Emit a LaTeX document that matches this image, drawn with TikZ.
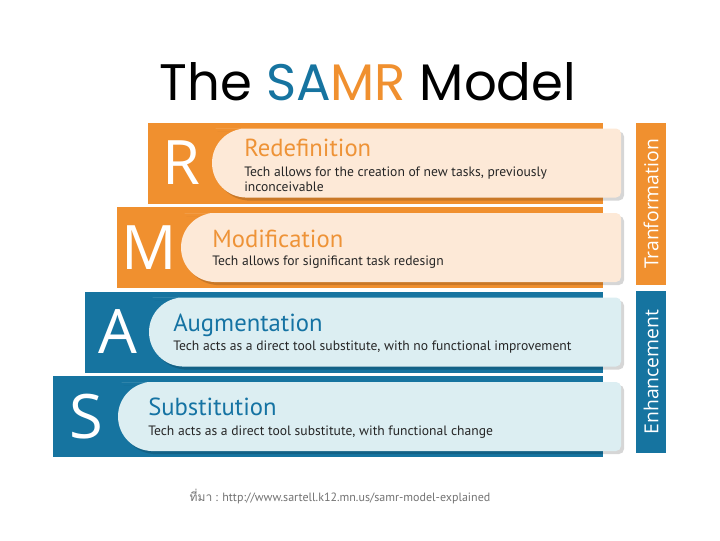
\documentclass[tikz,border=0pt]{standalone}
\usepackage{fontspec}
\setmainfont{Open Sans}
\newfontfamily\titlefont{Poppins}
\newfontfamily\pillfont{PT Sans}
\newfontfamily\thaifont[Script=Thai]{Loma}

\definecolor{samrorange}{rgb}{0.941176, 0.564706, 0.184314}
\definecolor{samrblue}{rgb}{0.086275, 0.454902, 0.627451}
\definecolor{samrorangetext}{rgb}{0.933333, 0.576471, 0.215686}
\definecolor{samrbluetext}{rgb}{0.082353, 0.450980, 0.639216}
\definecolor{desctext}{rgb}{0.150000, 0.150000, 0.150000}
\definecolor{sourcetext}{rgb}{0.450000, 0.450000, 0.450000}

\newlength{\du}
\setlength{\du}{0.75pt}

\tikzset{
  bigletter/.style={text=white, inner sep=0pt, font=\fontsize{46}{46}\selectfont},
  pilltitle/.style={anchor=base west, inner sep=0pt, font=\pillfont\fontsize{18.5}{19}\selectfont},
  pilldesc/.style={inner sep=0pt, text=desctext, align=left, font=\pillfont\fontsize{10.2}{11.3}\selectfont},
  pillshadow/.style={fill=black, opacity=0.16},
  sidebox/.style={rotate=90, text=white, inner sep=0pt, minimum width=162\du, minimum height=30\du, font=\fontsize{14.5}{14.5}\selectfont}
}

\begin{document}
\begin{tikzpicture}
\pgftransformxscale{1.000000}
\pgftransformyscale{-1.000000}
\useasboundingbox (0\du,0\du) rectangle (720\du,540\du);
\fill[white] (0\du,0\du) rectangle (720\du,540\du);
% title
\node[anchor=base, inner sep=0pt] (title) at (368\du,100\du){\titlefont\fontsize{38.5}{38.5}\selectfont The {\color{samrblue}SA}{\color{samrorange}MR} Model};
% R bar
\definecolor{dialinecolor}{rgb}{0.941176, 0.564706, 0.184314}
\pgfsetfillcolor{dialinecolor}
\fill (148\du,122.5\du)--(148\du,203.5\du)--(603\du,203.5\du)--(603\du,122.5\du)--cycle;
\fill[pillshadow, rounded corners=5\du] (252\du,131.5\du)--(624\du,131.5\du)--(624\du,200.5\du)--(252\du,200.5\du) [rounded corners=34.5\du] --(215\du,200.5\du)--(215\du,131.5\du)--cycle;
\definecolor{dialinecolor}{rgb}{0.992157, 0.913725, 0.843137}
\pgfsetfillcolor{dialinecolor}
\fill[rounded corners=5\du] (250\du,128.5\du)--(621\du,128.5\du)--(621\du,197.5\du)--(250\du,197.5\du) [rounded corners=34.5\du] --(212\du,197.5\du)--(212\du,128.5\du)--cycle;
\node[bigletter] (letterR) at (181\du,163\du){R};
\node[pilltitle, text=samrorangetext] (nameR) at (244\du,156\du){Redefinition};
\node[pilldesc, anchor=north west] (descR) at (244\du,167\du){Tech allows for the creation of new tasks, previously\\inconceivable};
% M bar
\definecolor{dialinecolor}{rgb}{0.941176, 0.564706, 0.184314}
\pgfsetfillcolor{dialinecolor}
\fill (116.5\du,207\du)--(116.5\du,288\du)--(603\du,288\du)--(603\du,207\du)--cycle;
\fill[pillshadow, rounded corners=5\du] (221\du,216\du)--(624\du,216\du)--(624\du,285\du)--(221\du,285\du) [rounded corners=34.5\du] --(184\du,285\du)--(184\du,216\du)--cycle;
\definecolor{dialinecolor}{rgb}{0.992157, 0.913725, 0.843137}
\pgfsetfillcolor{dialinecolor}
\fill[rounded corners=5\du] (219\du,213\du)--(621\du,213\du)--(621\du,282\du)--(219\du,282\du) [rounded corners=34.5\du] --(181\du,282\du)--(181\du,213\du)--cycle;
\node[bigletter] (letterM) at (149.5\du,247.5\du){M};
\node[pilltitle, text=samrorangetext] (nameM) at (212\du,247\du){Modification};
\node[pilldesc, anchor=base west] (descM) at (212\du,265\du){Tech allows for significant task redesign};
% A bar
\definecolor{dialinecolor}{rgb}{0.086275, 0.454902, 0.627451}
\pgfsetfillcolor{dialinecolor}
\fill (84.5\du,291.5\du)--(84.5\du,372.5\du)--(603\du,372.5\du)--(603\du,291.5\du)--cycle;
\fill[pillshadow, rounded corners=5\du] (189\du,300.5\du)--(624\du,300.5\du)--(624\du,369.5\du)--(189\du,369.5\du) [rounded corners=34.5\du] --(152\du,369.5\du)--(152\du,300.5\du)--cycle;
\definecolor{dialinecolor}{rgb}{0.862745, 0.933333, 0.949020}
\pgfsetfillcolor{dialinecolor}
\fill[rounded corners=5\du] (187\du,297.5\du)--(621\du,297.5\du)--(621\du,366.5\du)--(187\du,366.5\du) [rounded corners=34.5\du] --(149\du,366.5\du)--(149\du,297.5\du)--cycle;
\node[bigletter] (letterA) at (117.5\du,332\du){A};
\node[pilltitle, text=samrbluetext] (nameA) at (173\du,331\du){Augmentation};
\node[pilldesc, anchor=base west] (descA) at (173\du,350\du){Tech acts as a direct tool substitute, with no functional improvement};
% S bar
\definecolor{dialinecolor}{rgb}{0.086275, 0.454902, 0.627451}
\pgfsetfillcolor{dialinecolor}
\fill (53\du,376\du)--(53\du,457\du)--(603\du,457\du)--(603\du,376\du)--cycle;
\fill[pillshadow, rounded corners=5\du] (158\du,385\du)--(624\du,385\du)--(624\du,454\du)--(158\du,454\du) [rounded corners=34.5\du] --(121\du,454\du)--(121\du,385\du)--cycle;
\definecolor{dialinecolor}{rgb}{0.862745, 0.933333, 0.949020}
\pgfsetfillcolor{dialinecolor}
\fill[rounded corners=5\du] (156\du,382\du)--(621\du,382\du)--(621\du,451\du)--(156\du,451\du) [rounded corners=34.5\du] --(118\du,451\du)--(118\du,382\du)--cycle;
\node[bigletter] (letterS) at (86\du,416.5\du){S};
\node[pilltitle, text=samrbluetext] (nameS) at (148\du,415\du){Substitution};
\node[pilldesc, anchor=base west] (descS) at (148\du,435\du){Tech acts as a direct tool substitute, with functional change};
% side labels
\node[sidebox, fill=samrorange] (transform) at (651\du,204\du){Tranformation};
\node[sidebox, fill=samrblue] (enhance) at (651\du,372\du){Enhancement};
% source
\node[inner sep=0pt, text=sourcetext, font=\pillfont\fontsize{9}{9}\selectfont] (source) at (340\du,497\du){{\thaifont ที่มา} : http://www.sartell.k12.mn.us/samr-model-explained};
\end{tikzpicture}
\end{document}
